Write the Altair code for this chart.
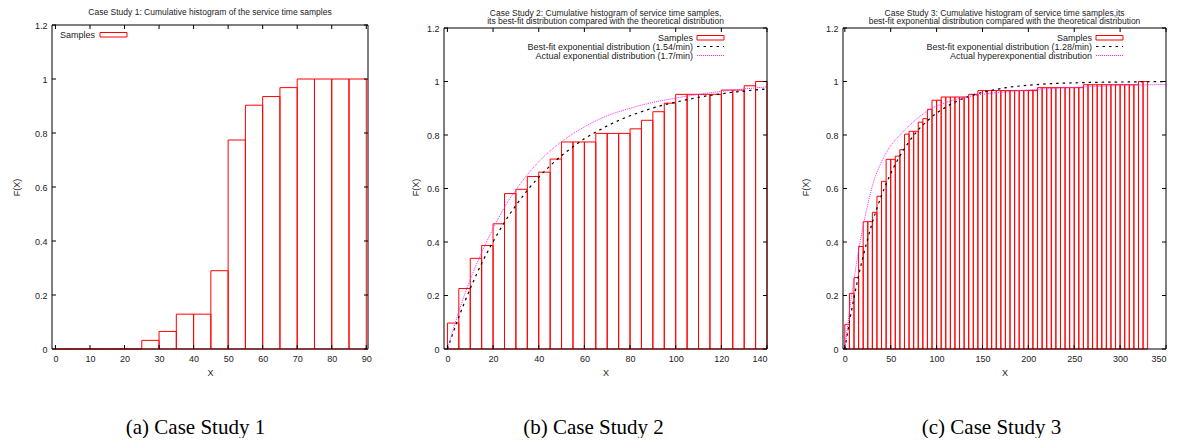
import altair as alt
import pandas as pd

FONT = "Liberation Sans"

# ---------------- data ----------------
bin_width = 5

c1_bin_start = [0, 5, 10, 15, 20, 25, 30, 35, 40, 45, 50, 55, 60, 65, 70, 75, 80, 85]
c1_cdf = [0, 0, 0, 0, 0, 0.032, 0.065, 0.129, 0.129, 0.290, 0.774, 0.903, 0.935,
          0.968, 1.0, 1.0, 1.0, 1.0]

c2_bin_start = list(range(0, 140, 5))
c2_cdf = [0.097, 0.226, 0.339, 0.387, 0.468, 0.581, 0.597, 0.645, 0.661, 0.710,
          0.774, 0.774, 0.774, 0.806, 0.806, 0.806, 0.823, 0.855, 0.887, 0.919,
          0.952, 0.952, 0.952, 0.952, 0.968, 0.968, 0.984, 1.0]

c3_bin_start = list(range(0, 330, 5))
c3_cdf = [0.092, 0.208, 0.267, 0.383, 0.476, 0.476, 0.511, 0.571, 0.627, 0.709,
          0.709, 0.721, 0.745, 0.803, 0.814, 0.814, 0.848, 0.861, 0.896, 0.930,
          0.930, 0.942, 0.942, 0.942, 0.942, 0.942, 0.942, 0.952, 0.952, 0.966,
          0.966, 0.966, 0.966, 0.966, 0.966, 0.966, 0.966, 0.966, 0.966, 0.966,
          0.966, 0.966, 0.977, 0.977, 0.977, 0.977, 0.977, 0.977, 0.977, 0.977,
          0.977, 0.977, 0.988, 0.988, 0.988, 0.988, 0.988, 0.988, 0.988, 0.988,
          0.988, 0.988, 0.988, 0.988, 1.0, 1.0]

c2_fit_x = [0, 5, 10, 15, 20, 25, 30, 35, 40, 45, 50, 55, 60, 65, 70, 75, 80, 85,
            90, 95, 100, 105, 110, 115, 120, 125, 130, 135, 140]
c2_fit_y = [0, 0.120, 0.226, 0.320, 0.401, 0.474, 0.537, 0.593, 0.642, 0.685, 0.723,
            0.756, 0.786, 0.811, 0.834, 0.854, 0.872, 0.887, 0.901, 0.913, 0.923,
            0.932, 0.941, 0.948, 0.954, 0.960, 0.964, 0.969, 0.972]
c2_act_x = [0, 5, 10, 15, 20, 25, 30, 40, 50, 60, 70, 80, 90, 100, 110, 120, 130, 140]
c2_act_y = [0, 0.140, 0.260, 0.360, 0.450, 0.530, 0.595, 0.700, 0.775, 0.830, 0.872,
            0.900, 0.922, 0.938, 0.952, 0.963, 0.972, 0.980]

c3_fit_x = [0, 5, 10, 15, 20, 25, 30, 35, 40, 45, 50, 60, 70, 80, 90, 100, 110, 120,
            140, 160, 180, 200, 225, 250, 275, 300, 325, 350]
c3_fit_y = [0, 0.101, 0.192, 0.274, 0.347, 0.413, 0.473, 0.526, 0.574, 0.617, 0.656,
            0.722, 0.775, 0.819, 0.853, 0.882, 0.904, 0.923, 0.950, 0.967, 0.979,
            0.986, 0.992, 0.995, 0.997, 0.998, 0.999, 0.9994]
c3_act_x = [0, 5, 10, 15, 20, 25, 30, 40, 50, 60, 75, 90, 105, 120, 150, 180, 210,
            250, 300, 350]
c3_act_y = [0, 0.140, 0.260, 0.370, 0.460, 0.540, 0.610, 0.700, 0.760, 0.800, 0.850,
            0.890, 0.915, 0.932, 0.952, 0.963, 0.971, 0.978, 0.985, 0.989]

y_ticks = [0, 0.2, 0.4, 0.6, 0.8, 1, 1.2]
c1_x_ticks = [0, 10, 20, 30, 40, 50, 60, 70, 80, 90]
c2_x_ticks = [0, 20, 40, 60, 80, 100, 120, 140]
c3_x_ticks = [0, 50, 100, 150, 200, 250, 300, 350]

titles = [
    ["Case Study 1: Cumulative histogram of the service time samples"],
    ["Case Study 2: Cumulative histogram of service time samples,",
     "its best-fit distribution compared with the theoretical distribution"],
    ["Case Study 3: Cumulative histogram of service time samples,its",
     "best-fit exponential distribution compared with the theoretical distribution"],
]
captions = ["(a) Case Study 1", "(b) Case Study 2", "(c) Case Study 3"]
legend2 = ["Samples", "Best-fit exponential distribution (1.54/min)",
           "Actual exponential distribution (1.7/min)"]
legend3 = ["Samples", "Best-fit exponential distribution (1.28/min)",
           "Actual hyperexponential distribution"]

RED = "#ff0000"
PINK = "#ff22ff"
H = 324


def one(text):
    return pd.DataFrame({"t": [text]})


def panel(width, xdom, ydom, top, starts, cdf, xticks, title_lines, title_ys,
          caption, cap_x, ytitle_x, legend, curves, legend_left):
    xs = alt.Scale(domain=xdom, nice=False, zero=False)
    ys = alt.Scale(domain=ydom, nice=False, zero=False)
    xa = alt.Axis(values=xticks, title="X", labelExpr="datum.value + ''",
                  labelPadding=5, titleY=23, titleBaseline="middle")
    ya = alt.Axis(values=y_ticks, title="F(X)", labelExpr="datum.value + ''",
                  labelPadding=5, titleX=ytitle_x, titleBaseline="middle")

    def X(f):
        return alt.X(f, scale=xs, axis=xa)

    def Y(f):
        return alt.Y(f, scale=ys, axis=ya)

    df = pd.DataFrame({"start": starts, "end": [s + bin_width for s in starts], "v": cdf})
    layers = []
    if legend_left:
        # invisible anchor fixing the chart's top-left corner
        layers.append(alt.Chart(one("a")).mark_rect(opacity=0).encode(
            x=alt.value(-44), x2=alt.value(-43), y=alt.value(-17), y2=alt.value(-16)))
    bars = alt.Chart(df).mark_rect(fillOpacity=0, stroke=RED, strokeWidth=1).encode(
        x=X("start:Q"), x2="end:Q", y=Y("v:Q"), y2=alt.Y2(datum=0),
    )
    layers.append(bars)
    for cx, cy, color, dash, sw in curves:
        cdfc = pd.DataFrame({"x": cx, "y": cy})
        layers.append(alt.Chart(cdfc).mark_line(color=color, strokeDash=dash, strokeWidth=sw,
                                                interpolate="monotone").encode(
            x=X("x:Q"), y=Y("y:Q")))
    # frame
    layers.append(alt.Chart(one("f")).mark_rect(fillOpacity=0, stroke="black", strokeWidth=1).encode(
        x=alt.value(0), x2=alt.value(width), y=alt.value(top), y2=alt.value(H)))
    # inward ticks
    xt = pd.DataFrame({"v": xticks})
    yt = pd.DataFrame({"v": y_ticks})
    layers.append(alt.Chart(xt).mark_rule(color="black", strokeWidth=1).encode(
        x=X("v:Q"), y=alt.value(H - 4), y2=alt.value(H)))
    layers.append(alt.Chart(xt).mark_rule(color="black", strokeWidth=1).encode(
        x=X("v:Q"), y=alt.value(top), y2=alt.value(top + 4)))
    layers.append(alt.Chart(yt).mark_rule(color="black", strokeWidth=1).encode(
        y=Y("v:Q"), x=alt.value(0), x2=alt.value(4)))
    layers.append(alt.Chart(yt).mark_rule(color="black", strokeWidth=1).encode(
        y=Y("v:Q"), x=alt.value(width - 4), x2=alt.value(width)))
    # titles
    for line, ty in zip(title_lines, title_ys):
        layers.append(alt.Chart(one(line)).mark_text(font=FONT, fontSize=8.5, color="#222",
                                                     baseline="middle", align="center").encode(
            x=alt.value(width / 2), y=alt.value(ty), text="t:N"))
    # caption
    layers.append(alt.Chart(one(caption)).mark_text(font="Liberation Serif", fontSize=21,
                                                    color="black", baseline="middle",
                                                    align="center").encode(
        x=alt.value(cap_x), y=alt.value(403), text="t:N"))
    # legend
    if legend_left:
        layers.append(alt.Chart(one(legend[0])).mark_text(font=FONT, fontSize=9, color="#222",
                                                          align="left", baseline="middle").encode(
            x=alt.value(8), y=alt.value(9.7), text="t:N"))
        layers.append(alt.Chart(one("box")).mark_rect(fillOpacity=0, stroke=RED, strokeWidth=1).encode(
            x=alt.value(48), x2=alt.value(75), y=alt.value(7.5), y2=alt.value(12)))
    else:
        rows = [12.5, 21.5, 30.5]
        for txt, ry in zip(legend, rows):
            layers.append(alt.Chart(one(txt)).mark_text(font=FONT, fontSize=9, color="#222",
                                                        align="right", baseline="middle").encode(
                x=alt.value(249), y=alt.value(ry), text="t:N"))
        layers.append(alt.Chart(one("box")).mark_rect(fillOpacity=0, stroke=RED, strokeWidth=1).encode(
            x=alt.value(253), x2=alt.value(280), y=alt.value(10.5), y2=alt.value(15)))
        for (cx, cy, color, dash, sw), ry in zip(curves, rows[1:]):
            layers.append(alt.Chart(one("l")).mark_rule(color=color, strokeDash=dash,
                                                        strokeWidth=sw).encode(
                x=alt.value(253), x2=alt.value(280), y=alt.value(ry)))
    return alt.layer(*layers).properties(width=width, height=H)


BLACK_DASH = [2.5, 4]
PINK_DASH = [1, 1]

p1 = panel(316, [-1, 90.5], [0, 1.2], 0, c1_bin_start, c1_cdf, c1_x_ticks,
           titles[0], [-12.7], captions[0], 143.5, -36, ["Samples"], [], True)
p2 = panel(323, [-1.5, 140], [0, 1.2 * 324 / 321], 3, c2_bin_start, c2_cdf, c2_x_ticks,
           titles[1], [-12.3, -4], captions[1], 149.5, -29, legend2,
           [(c2_fit_x, c2_fit_y, "black", BLACK_DASH, 1.2),
            (c2_act_x, c2_act_y, PINK, PINK_DASH, 1)], False)
p3 = panel(323, [-2, 350], [0, 1.2 * 324 / 321], 3, c3_bin_start, c3_cdf, c3_x_ticks,
           titles[2], [-12.3, -4], captions[2], 148.5, -38, legend3,
           [(c3_fit_x, c3_fit_y, "black", BLACK_DASH, 1.2),
            (c3_act_x, c3_act_y, PINK, PINK_DASH, 1)], False)

chart = alt.hconcat(p1, p2, p3, spacing=76, bounds="flush").properties(
    autosize=alt.AutoSizeParams(type="pad"),
    padding=0,
).configure_view(strokeWidth=0).configure_axis(
    ticks=False, domain=False, grid=False,
    labelFont=FONT, labelFontSize=9, labelColor="#222",
    titleFont=FONT, titleFontSize=9, titleFontWeight="normal", titleColor="#222",
)

chart.save("out.html", embed_options={"renderer": "svg", "actions": False})
